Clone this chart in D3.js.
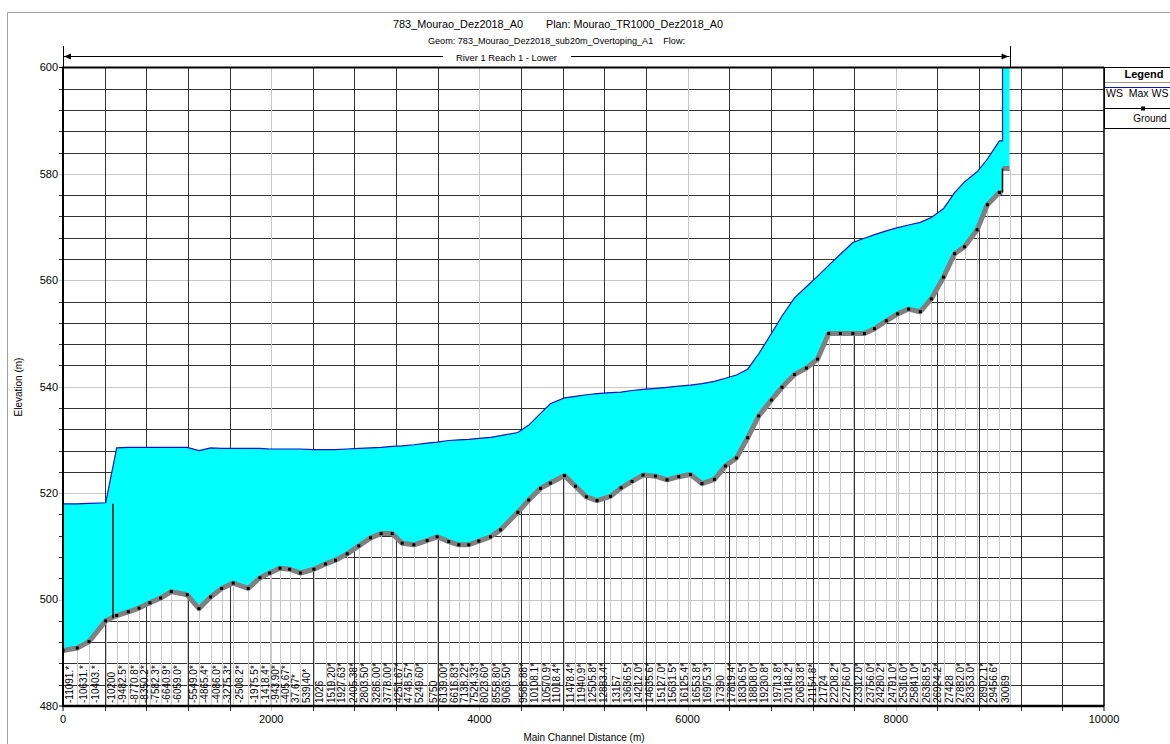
<!DOCTYPE html>
<html>
<head>
<meta charset="utf-8">
<script src="https://cdn.jsdelivr.net/npm/d3@7"></script>
<style>
body { margin: 0; background: #fff; }
svg { display: block; font-family: "Liberation Sans", Arial, sans-serif; }
</style>
</head>
<body>
<svg id="chart" width="1170" height="744"></svg>
<script>
// river stations, as labelled along the bottom of the profile
const stationLabels = [
  "-11091.*","-10631.*","-10403.*","-10200","-9482.5*","-8770.8*","-8350.2*","-7582.3*","-6640.9*","-6059.0*",
  "-5549.0*","-4865.4*","-4086.0*","-3275.3*","-2508.2*","-1975.5*","-1418.4*","-943.90*","-405.67*","37.67*",
  "539.40*","1026","1519.20*","1927.63*","2405.38*","2803.50*","3286.00*","3778.00*","4251.67*","4748.57*",
  "5249.60*","5750","6139.00*","6616.83*","7138.22*","7524.33*","8023.60*","8558.80*","9063.50*","9568.88*",
  "10108.1*","10570.9*","11018.4*","11478.4*","11940.9*","12505.8*","12883.4*","13157","13636.5*","14212.0*",
  "14635.6*","15127.0*","15631.5*","16125.4*","16553.8*","16975.3*","17390","17819.4*","18306.5*","18808.0*",
  "19230.8*","19713.8*","20148.2*","20633.8*","21154.8*","21724","22208.2*","22766.0*","23312.0*","23756.0*",
  "24280.2*","24791.0*","25316.0*","25841.0*","26368.5*","26924.2*","27428","27882.0*","28353.0*","28902.1*",
  "29456.6*","30069"
]

// main channel distance of each station (m)
const stationDist = [
  0,137,250,410,516,627,730,835,938,1040,
  1193,1306,1418,1524,1635,1779,1892,1985,2084,2177,
  2280,2410,2522,2618,2730,2842,2954,3056,3162,3258,
  3370,3498,3594,3706,3802,3898,3994,4107,4203,4369,
  4474,4587,4681,4817,4923,5028,5130,5259,5361,5466,
  5572,5691,5802,5915,6027,6138,6257,6363,6469,6577,
  6683,6805,6907,7027,7141,7249,7355,7467,7588,7698,
  7796,7909,8017,8123,8235,8341,8459,8565,8660,8781,
  8880,8995
]

// minimum channel elevation (m)
const groundElev = [
  490.4,490.9,492.1,496.0,497.0,497.7,498.4,499.4,500.3,501.5,
  500.9,498.3,500.5,502.1,503.1,502.1,504.1,505.0,505.9,505.7,
  505.0,505.7,506.7,507.4,508.6,510.1,511.6,512.4,512.4,510.6,
  510.3,511.1,511.8,510.9,510.3,510.3,511.0,511.8,513.1,516.4,
  518.7,520.9,521.9,523.3,521.3,519.3,518.6,519.4,521.0,522.2,
  523.4,523.2,522.5,523.1,523.5,521.8,522.6,525.1,526.6,530.4,
  534.5,537.5,539.9,542.3,543.5,545.2,550.0,550.0,550.0,550.0,
  550.9,552.4,553.7,554.6,554.1,556.5,560.6,565.0,566.3,569.5,
  574.2,576.5
]

// WS Max WS (m)
const wsElev = [
  518.0,518.0,518.1,518.2,528.5,528.6,528.6,528.6,528.6,528.6,
  528.6,528.0,528.5,528.4,528.4,528.4,528.4,528.3,528.3,528.3,
  528.3,528.2,528.2,528.2,528.3,528.4,528.5,528.6,528.8,528.9,
  529.1,529.4,529.6,529.9,530.0,530.1,530.3,530.5,530.8,531.4,
  532.8,535.0,536.8,537.9,538.2,538.5,538.7,538.9,539.0,539.3,
  539.5,539.7,539.9,540.1,540.3,540.6,541.0,541.6,542.2,543.3,
  546.2,550.0,553.3,556.7,558.8,560.8,562.8,564.9,567.1,567.9,
  568.6,569.3,569.9,570.4,570.9,571.8,573.5,576.5,578.5,580.4,
  582.8,586.2
]

// inline structures: weir downstream, dam upstream
const structDist = [480, 9025]
const structLow = [496.5, 576.5]
const structHigh = [518.0, 581.0]
const damEnd = 9093
const reservoirWS = 606

const xTicks = [0, 2000, 4000, 6000, 8000, 10000]
const yTicks = [480, 500, 520, 540, 560, 580, 600]

const svg = d3.select('#chart')
const x = d3.scaleLinear().domain([0, 10000]).range([63, 1104])
const y = d3.scaleLinear().domain([480, 600]).range([706, 67.5])
const px = v => Math.round(v) + 0.5

// outer frame
svg.append('path')
    .attr('d', 'M7.5,744V12.5H1170')
    .attr('fill', 'none').attr('stroke', '#a0a0a0')

// titles
const t1 = svg.append('g').attr('font-size', 11).attr('text-anchor', 'middle')
t1.append('text').attr('x', 458).attr('y', 28)
    .attr('textLength', 130).attr('lengthAdjust', 'spacingAndGlyphs')
    .text('783_Mourao_Dez2018_A0')
t1.append('text').attr('x', 634.5).attr('y', 28)
    .attr('textLength', 177).attr('lengthAdjust', 'spacingAndGlyphs')
    .text('Plan: Mourao_TR1000_Dez2018_A0')
svg.append('text').attr('x', 556.5).attr('y', 44)
    .attr('font-size', 9.5).attr('text-anchor', 'middle')
    .attr('textLength', 257).attr('lengthAdjust', 'spacingAndGlyphs')
    .style('white-space', 'pre')
    .text('Geom: 783_Mourao_Dez2018_sub20m_Overtoping_A1    Flow:')

// reach bracket
const reachTxt = svg.append('text').attr('x', 506.5).attr('y', 61)
    .attr('font-size', 9.5).attr('text-anchor', 'middle')
    .attr('textLength', 101).attr('lengthAdjust', 'spacingAndGlyphs')
    .text('River 1 Reach 1 - Lower')
const bx0 = x(0), bx1 = x(damEnd), by = 56.5
const br = svg.append('g').attr('stroke', '#000').attr('fill', 'none')
br.append('line').attr('x1', bx0).attr('x2', 443).attr('y1', by).attr('y2', by)
br.append('line').attr('x1', 571).attr('x2', bx1).attr('y1', by).attr('y2', by)
br.append('line').attr('x1', px(bx0)).attr('x2', px(bx0)).attr('y1', 46).attr('y2', 67)
br.append('line').attr('x1', px(bx1)).attr('x2', px(bx1)).attr('y1', 46).attr('y2', 67)
svg.append('path').attr('d', `M${bx0 + 1},${by}l7,-3v6z`).attr('fill', '#000')
svg.append('path').attr('d', `M${bx1 - 1},${by}l-7,-3v6z`).attr('fill', '#000')

// grid
const grid = svg.append('g').attr('shape-rendering', 'crispEdges')
d3.range(484, 600, 4).forEach(v => {
  grid.append('line')
      .attr('x1', 59).attr('x2', x(10000))
      .attr('y1', px(y(v))).attr('y2', px(y(v)))
      .attr('stroke', v % 20 === 0 ? '#c8c8c8' : '#333')
})
d3.range(400, 10000, 400).forEach(v => {
  grid.append('line')
      .attr('x1', px(x(v))).attr('x2', px(x(v)))
      .attr('y1', y(600)).attr('y2', 711)
      .attr('stroke', v % 2000 === 0 ? '#c8c8c8' : '#333')
})

// station lines from the axis up to the ground
const stn = svg.append('g').attr('stroke', '#c8c8c8').attr('shape-rendering', 'crispEdges')
stationDist.forEach((d, i) => {
  stn.append('line')
      .attr('x1', px(x(d))).attr('x2', px(x(d)))
      .attr('y1', y(480)).attr('y2', y(groundElev[i]))
})
stn.append('line')
    .attr('x1', px(x(damEnd))).attr('x2', px(x(damEnd)))
    .attr('y1', y(480)).attr('y2', y(structHigh[1]))

// station labels
const last = stationDist.length - 1
svg.append('g').attr('font-size', 10)
  .selectAll('text').data(stationLabels).join('text')
    .attr('transform', (s, i) => `translate(${x(stationDist[i]) + 6},703) rotate(-90)`)
    .attr('dy', '0.35em')
    .text(s => s)

// water surface profile
const pts = stationDist.map((d, i) => ({ d, lo: groundElev[i], hi: wsElev[i] }))
pts.push({ d: structDist[1], lo: structLow[1], hi: wsElev[last] })
pts.push({ d: structDist[1], lo: structHigh[1], hi: reservoirWS })
pts.push({ d: damEnd, lo: structHigh[1], hi: reservoirWS })

svg.append('clipPath').attr('id', 'plotclip')
  .append('rect').attr('x', x(0)).attr('y', y(600))
    .attr('width', x(10000) - x(0)).attr('height', y(480) - y(600))

const plot = svg.append('g').attr('clip-path', 'url(#plotclip)')
plot.append('path')
    .attr('d', d3.area().x(p => x(p.d)).y0(p => y(p.lo)).y1(p => y(p.hi))(pts))
    .attr('fill', '#00ffff')
plot.append('path')
    .attr('d', d3.line().x(p => x(p.d)).y(p => y(p.hi))(pts.slice(0, last + 3)))
    .attr('fill', 'none').attr('stroke', '#1010c8').attr('stroke-width', 1.2)

// ground
const gpts = stationDist.map((d, i) => [x(d), y(groundElev[i])])
gpts.push([x(structDist[1]), y(structLow[1])])
plot.append('path')
    .attr('d', d3.line()(gpts))
    .attr('fill', 'none').attr('stroke', '#808080').attr('stroke-width', 5)
    .attr('stroke-linejoin', 'round')
plot.append('path')
    .attr('d', d3.line()([[x(structDist[1]), y(structHigh[1])], [x(damEnd), y(structHigh[1])]]))
    .attr('fill', 'none').attr('stroke', '#808080').attr('stroke-width', 5)

// structures
structDist.forEach((d, i) => {
  plot.append('line')
      .attr('x1', x(d)).attr('x2', x(d))
      .attr('y1', y(structLow[i])).attr('y2', y(structHigh[i]))
      .attr('stroke', '#000').attr('stroke-width', 1.5)
})

plot.append('g').selectAll('rect').data(stationDist).join('rect')
    .attr('x', d => x(d) - 1.5).attr('y', (d, i) => y(groundElev[i]) - 1.5)
    .attr('width', 3).attr('height', 3).attr('fill', '#000')

// axes frame
const fr = svg.append('g').attr('stroke', '#000').attr('fill', 'none')
fr.append('line').attr('x1', x(0)).attr('x2', x(0)).attr('y1', y(600) - 1).attr('y2', y(480) + 1).attr('stroke-width', 2)
fr.append('line').attr('x1', x(0)).attr('x2', x(10000)).attr('y1', y(480)).attr('y2', y(480)).attr('stroke-width', 2.5)
fr.append('line').attr('x1', x(0)).attr('x2', x(10000)).attr('y1', y(600)).attr('y2', y(600)).attr('stroke-width', 2)
fr.append('line').attr('x1', x(10000)).attr('x2', x(10000)).attr('y1', y(600)).attr('y2', y(480)).attr('stroke-width', 1.5)
fr.append('line').attr('x1', 59).attr('x2', x(0)).attr('y1', y(600)).attr('y2', y(600))
fr.append('line').attr('x1', 59).attr('x2', x(0)).attr('y1', y(480)).attr('y2', y(480))
fr.append('line').attr('x1', x(0)).attr('x2', x(0)).attr('y1', y(480)).attr('y2', 711)
fr.append('line').attr('x1', x(10000)).attr('x2', x(10000)).attr('y1', y(480)).attr('y2', 711)

// tick labels
svg.append('g').attr('font-size', 11).attr('text-anchor', 'end')
  .selectAll('text').data(yTicks).join('text')
    .attr('x', 58).attr('y', v => y(v)).attr('dy', '0.35em').text(v => v)
svg.append('g').attr('font-size', 11).attr('text-anchor', 'middle')
  .selectAll('text').data(xTicks).join('text')
    .attr('x', v => x(v)).attr('y', 723).text(v => v)

svg.append('text').attr('transform', 'translate(22,387) rotate(-90)')
    .attr('font-size', 10).attr('text-anchor', 'middle').text('Elevation (m)')
svg.append('text').attr('x', 584).attr('y', 741)
    .attr('font-size', 10).attr('text-anchor', 'middle').text('Main Channel Distance (m)')

// legend
const lg = svg.append('g')
lg.append('rect').attr('x', 1104.5).attr('y', 67.5).attr('width', 80).attr('height', 61)
    .attr('fill', '#fff').attr('stroke', '#000')
lg.append('text').attr('x', 1144).attr('y', 78).attr('font-size', 11).attr('font-weight', 'bold')
    .attr('text-anchor', 'middle').text('Legend')
lg.append('line').attr('x1', 1105).attr('x2', 1170).attr('y1', 82.5).attr('y2', 82.5).attr('stroke', '#999')
lg.append('line').attr('x1', 1105).attr('x2', 1170).attr('y1', 87.5).attr('y2', 87.5).attr('stroke', '#1010c8')
lg.append('text').attr('x', 1106).attr('y', 97).attr('font-size', 10.5)
    .style('white-space', 'pre').text('WS  Max WS')
lg.append('line').attr('x1', 1105).attr('x2', 1170).attr('y1', 108.5).attr('y2', 108.5).attr('stroke', '#000')
lg.append('rect').attr('x', 1141).attr('y', 106.5).attr('width', 4).attr('height', 4).attr('fill', '#000')
lg.append('text').attr('x', 1150).attr('y', 122).attr('font-size', 10)
    .attr('text-anchor', 'middle').text('Ground')
</script>
</body>
</html>
